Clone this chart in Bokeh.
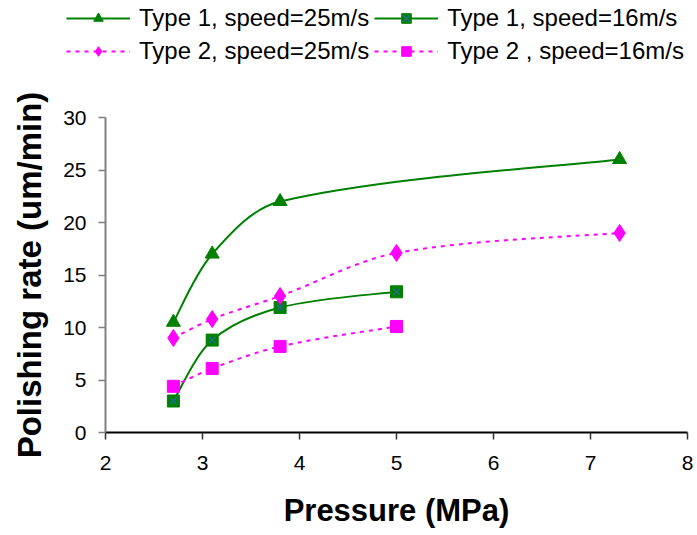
import math
from bokeh.plotting import figure
from bokeh.layouts import column
from bokeh.models import Range1d, Legend, LegendItem, FixedTicker
from bokeh.embed import file_html
from bokeh.resources import INLINE

# ---- data ----
t1_25_x = [2.7, 3.1, 3.8, 7.3]
t1_25_y = [10.5, 17.0, 22.0, 26.0]
t1_16_x = [2.7, 3.1, 3.8, 5.0]
t1_16_y = [3.0, 8.8, 11.9, 13.4]
t2_25_x = [2.7, 3.1, 3.8, 5.0, 7.3]
t2_25_y = [9.0, 10.8, 13.0, 17.1, 19.0]
t2_16_x = [2.7, 3.1, 3.8, 5.0]
t2_16_y = [4.4, 6.1, 8.2, 10.1]
x_ticks = [2, 3, 4, 5, 6, 7, 8]
y_ticks = [0, 5, 10, 15, 20, 25, 30]
labels = ["Type 1, speed=25m/s", "Type 1, speed=16m/s",
          "Type 2, speed=25m/s", "Type 2 , speed=16m/s"]

GREEN = "#008000"
MAGENTA = "#FF00FF"
XCOL = "#1E6E8C"
FONT = "Liberation Sans"
DOT = "4 5"

LEG_H = 68

p = figure(width=697, height=535 - LEG_H, output_backend="svg", toolbar_location=None,
           x_range=Range1d(2, 8), y_range=Range1d(0, 30),
           min_border_left=105, min_border_right=10,
           min_border_top=117 - LEG_H, min_border_bottom=103)
p.frame_align = False
p.outline_line_color = None
p.grid.visible = False
p.background_fill_color = "white"
p.border_fill_color = "white"

# approximate pixel size of one data unit, used only to weigh the smoothing
SX, SY = 97.0, 10.52


def smooth(xs, ys):
    """Bezier control points for an Excel-like smoothed line (chord-weighted)."""
    n = len(xs)

    def L(i):
        return math.hypot((xs[i + 1] - xs[i]) * SX, (ys[i + 1] - ys[i]) * SY)

    out = dict(x0=[], y0=[], x1=[], y1=[], cx0=[], cy0=[], cx1=[], cy1=[])
    for i in range(n - 1):
        pm = i - 1 if i > 0 else i
        pp = i + 2 if i + 2 < n else i + 1
        li = L(i)
        lprev = L(i - 1) if i > 0 else li
        lnext = L(i + 1) if i + 2 < n else li
        f0 = li / (3.0 * (lprev + li))
        f1 = li / (3.0 * (li + lnext))
        out["x0"].append(xs[i]); out["y0"].append(ys[i])
        out["x1"].append(xs[i + 1]); out["y1"].append(ys[i + 1])
        out["cx0"].append(xs[i] + (xs[i + 1] - xs[pm]) * f0)
        out["cy0"].append(ys[i] + (ys[i + 1] - ys[pm]) * f0)
        out["cx1"].append(xs[i + 1] - (xs[pp] - xs[i]) * f1)
        out["cy1"].append(ys[i + 1] - (ys[pp] - ys[i]) * f1)
    return out


def curve(xs, ys, color, dash):
    d = smooth(xs, ys)
    return p.bezier(x0=d["x0"], y0=d["y0"], x1=d["x1"], y1=d["y1"],
                    cx0=d["cx0"], cy0=d["cy0"], cx1=d["cx1"], cy1=d["cy1"],
                    line_color=color, line_width=2, line_dash=dash)


curve(t1_25_x, t1_25_y, GREEN, "solid")
p.scatter(t1_25_x, t1_25_y, marker="triangle", size=14, fill_color=GREEN, line_color=GREEN)

curve(t1_16_x, t1_16_y, GREEN, "solid")
p.scatter(t1_16_x, t1_16_y, marker="square", size=12, fill_color=GREEN, line_color=GREEN)
p.scatter(t1_16_x, t1_16_y, marker="x", size=9, line_color=XCOL, line_width=1.5)

curve(t2_25_x, t2_25_y, MAGENTA, DOT)
p.scatter(t2_25_x, t2_25_y, marker="diamond", size=17, fill_color=MAGENTA, line_color=MAGENTA)

curve(t2_16_x, t2_16_y, MAGENTA, DOT)
p.scatter(t2_16_x, t2_16_y, marker="square", size=12, fill_color=MAGENTA, line_color=MAGENTA)

# ---- axes ----
p.xaxis.ticker = FixedTicker(ticks=x_ticks)
p.yaxis.ticker = FixedTicker(ticks=y_ticks)
for ax in (p.xaxis, p.yaxis):
    ax.minor_tick_line_color = None
    ax.major_tick_in = 0
    ax.major_tick_out = 7
    ax.axis_line_width = 2
    ax.major_tick_line_width = 1.5
    ax.major_label_text_font = FONT
    ax.major_label_text_font_size = "21px"
    ax.major_label_text_color = "black"
    ax.axis_label_text_font = FONT
    ax.axis_label_text_font_style = "bold"
    ax.axis_label_text_color = "black"

p.xaxis.axis_line_color = "black"
p.xaxis.major_tick_line_color = "#303030"
p.yaxis.axis_line_color = "#808080"
p.yaxis.major_tick_line_color = "#808080"

p.xaxis.axis_label = "Pressure (MPa)"
p.yaxis.axis_label = "Polishing rate (um/min)"
p.xaxis.axis_label_text_font_size = "31px"
p.yaxis.axis_label_text_font_size = "33px"
p.xaxis.major_label_standoff = 16
p.yaxis.major_label_standoff = 12
p.xaxis.axis_label_standoff = 20
p.yaxis.axis_label_standoff = 12

# ---- legend strip (its own small figure so nothing is clipped) ----
q = figure(width=697, height=LEG_H, output_backend="svg", toolbar_location=None,
           x_range=Range1d(100, 101), y_range=Range1d(100, 101),
           x_axis_location=None, y_axis_location=None,
           min_border_left=0, min_border_right=0, min_border_top=0, min_border_bottom=0)
q.frame_align = False
q.outline_line_color = None
q.grid.visible = False
q.border_fill_color = "white"

l1 = q.line(t1_25_x, t1_25_y, line_color=GREEN, line_width=2)
s1 = q.scatter(t1_25_x, t1_25_y, marker="triangle", size=14, fill_color=GREEN, line_color=GREEN)
l2 = q.line(t1_16_x, t1_16_y, line_color=GREEN, line_width=2)
s2 = q.scatter(t1_16_x, t1_16_y, marker="square", size=12, fill_color=GREEN, line_color=GREEN)
s2x = q.scatter(t1_16_x, t1_16_y, marker="x", size=9, line_color=XCOL, line_width=1.5)
l3 = q.line(t2_25_x, t2_25_y, line_color=MAGENTA, line_width=2, line_dash=DOT)
s3 = q.scatter(t2_25_x, t2_25_y, marker="diamond", size=17, fill_color=MAGENTA, line_color=MAGENTA)
l4 = q.line(t2_16_x, t2_16_y, line_color=MAGENTA, line_width=2, line_dash=DOT)
s4 = q.scatter(t2_16_x, t2_16_y, marker="square", size=12, fill_color=MAGENTA, line_color=MAGENTA)

items = [
    LegendItem(label=labels[0], renderers=[l1, s1]),
    LegendItem(label=labels[2], renderers=[l3, s3]),
    LegendItem(label=labels[1], renderers=[l2, s2, s2x]),
    LegendItem(label=labels[3], renderers=[l4, s4]),
]
legend = Legend(items=items, ncols=2, location=(66, 3),
                glyph_width=64, glyph_height=24, label_height=24,
                label_standoff=9, spacing=5, padding=0, margin=0,
                label_text_font=FONT, label_text_font_size="24px",
                label_text_color="black",
                border_line_color=None, background_fill_alpha=0)
q.add_layout(legend, "center")

layout = column(q, p, spacing=0)
open("out.html", "w").write(file_html(layout, INLINE))
